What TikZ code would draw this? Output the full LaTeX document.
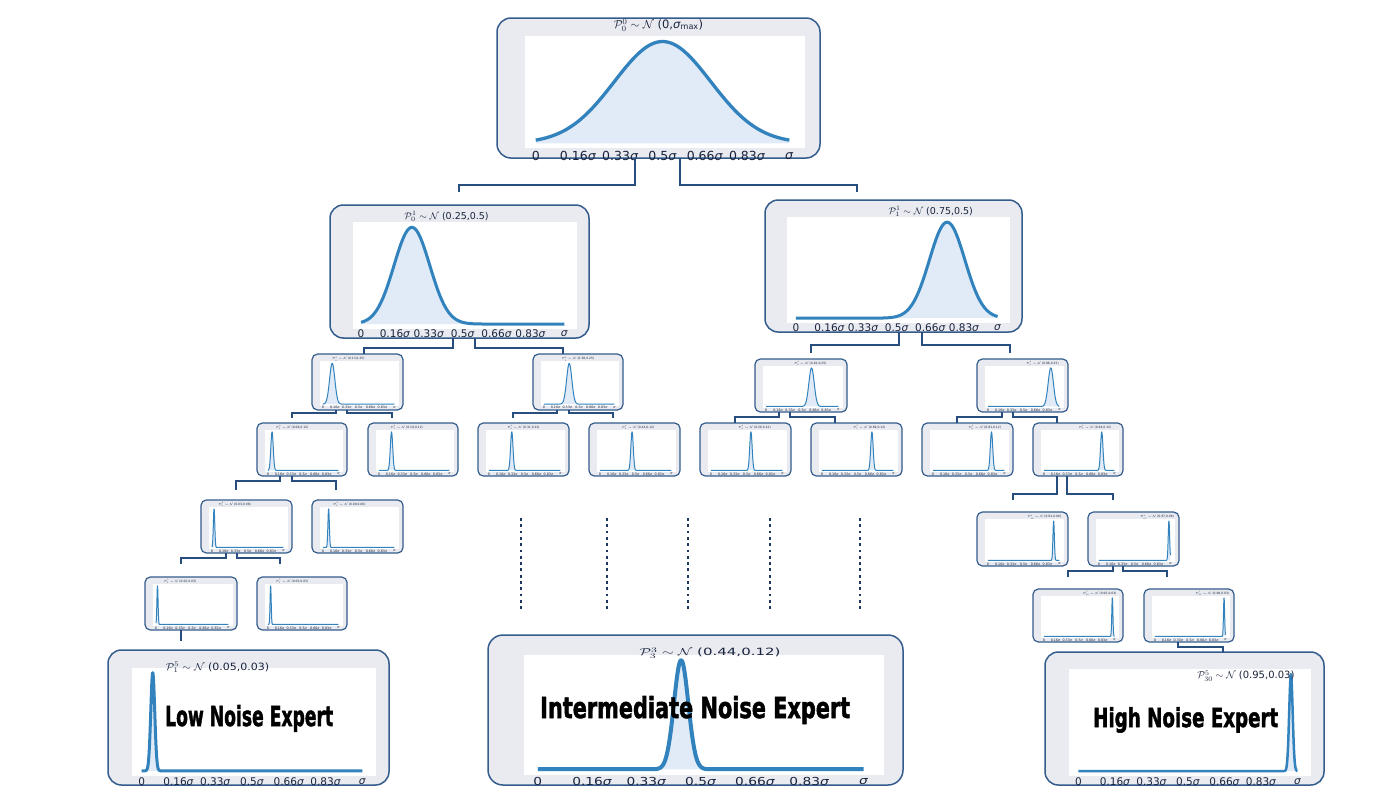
\RequirePackage{fix-cm}
\documentclass[tikz,border=0pt]{standalone}
\usepackage{fontspec}
\setmainfont{DejaVu Sans}
\newfontfamily\heavyfont{DejaVu Sans}[UprightFeatures={FakeBold=2}, BoldFeatures={FakeBold=2}]
\usepackage{graphicx}
\usetikzlibrary{calc}
\definecolor{boxgray}{RGB}{233,235,241}
\definecolor{bordercol}{RGB}{52,92,140}
\definecolor{curvecol}{RGB}{49,130,189}
\definecolor{curvefill}{RGB}{224,235,247}
\definecolor{conncol}{RGB}{40,78,128}
\definecolor{dotcol}{RGB}{30,55,95}
\definecolor{txtcol}{RGB}{25,35,60}
\newcommand{\sig}{\textit{σ}}
\def\mybw{1.5}\def\myclw{3}\def\mytfs{11}\def\mylfs{10}\def\mylyf{0.05}\def\mytyf{0.98}\def\mytxs{1}\def\mylxs{1}
\tikzset{
  pboxst/.style={draw=bordercol, fill=boxgray, line width=\mybw pt, inner sep=0pt, outer sep=0pt, rectangle},
  cline/.style={draw=curvecol, line width=\myclw pt, line join=round},
  labst/.style={inner sep=0pt, text=txtcol, font=\fontsize{\mylfs}{\mylfs}\selectfont},
  tickst/.style={inner sep=0pt, text=txtcol, font=\fontsize{\mytfs}{\mytfs}\selectfont},
  conn/.style={draw=conncol, line width=1.3pt},
  dotst/.style={draw=dotcol, line width=2.8pt, dash pattern=on 2.8pt off 3.5pt},
  bigtxt/.style={inner sep=0pt, text=black, font=\heavyfont\bfseries}
}
\newcommand{\pbox}[9]{%
  \pgfmathsetmacro\pbW{#4-#2}%
  \pgfmathsetmacro\pbH{#5-#3}%
  \pgfmathsetmacro\pbR{0.1*\pbH}%
  \node[pboxst, minimum width=\pbW pt, minimum height=\pbH pt, rounded corners=\pbR pt] (#1) at ({(#2+#4)/2},{(#3+#5)/2}) {};%
  \fill[white] ({#2+0.087*\pbW},{#3+0.13*\pbH}) rectangle ({#2+0.953*\pbW},{#3+0.93*\pbH});%
  \pgfmathsetmacro\pax{#2+0.12*\pbW}%
  \pgfmathsetmacro\paw{0.785*\pbW}%
  \pgfmathsetmacro\pae{\pax+\paw}%
  \pgfmathsetmacro\pby{#3+0.895*\pbH}%
  \pgfmathsetmacro\ppa{0.727*\pbH}%
  \pgfmathsetmacro\pta{max(0,#6-4.2*#7)}%
  \pgfmathsetmacro\ptb{min(1,#6+4.2*#7)}%
  \pgfmathsetmacro\pya{\pby-\ppa*exp(-0.5*min(abs(#6/#7),4.2)^2)}%
  \pgfmathsetmacro\pyb{\pby-\ppa*exp(-0.5*min(abs((1-#6)/#7),4.2)^2)}%
  \fill[curvefill] (\pax,\pby) -- (\pax,\pya) -- plot[variable=\t,domain=\pta:\ptb,samples=80] ({\pax+\t*\paw},{\pby-\ppa*exp(-0.5*min(abs((\t-#6)/#7),4.2)^2)}) -- (\pae,\pyb) -- (\pae,\pby) -- cycle;%
  \draw[cline] (\pax,\pya) -- plot[variable=\t,domain=\pta:\ptb,samples=80] ({\pax+\t*\paw},{\pby-\ppa*exp(-0.5*min(abs((\t-#6)/#7),4.2)^2)}) -- (\pae,\pyb);%
  \node[labst] at ({#2+#9*\pbW},{#3+\mylyf*\pbH}) {\scalebox{\mylxs}[1]{#8}};%
  \foreach \i/\tx in {0/0,1/0.16\sig,2/0.33\sig,3/0.5\sig,4/0.66\sig,5/0.83\sig,6/\sig}{%
    \node[tickst] at ({\pax+\i*\paw/6},{#3+\mytyf*\pbH}) {\scalebox{\mytxs}[1]{\tx}};}%
}
\newcommand{\conn}[6]{%
  \draw[conn] (#1.south -| #2,0) -- (#2,#3) -| ($(#4.north -| #5,0)+(0,#6)$);}
\begin{document}
\begin{tikzpicture}[x=1pt,y=-1pt]
\fill[white] (0,0) rectangle (1400,788);
\useasboundingbox (0,0) rectangle (1400,788);

% top
\def\mybw{1.5}\def\myclw{3.3}\def\mytfs{12.5}\def\mylfs{11.5}\def\mylyf{0.05}\def\mytyf{0.985}\def\mytxs{1}\def\mylxs{1}
\pbox{T}{497}{18}{820}{158}{0.5}{0.19}{$\mathcal{P}^0_0\sim\mathcal{N}$ (0,\sig\textsubscript{max})}{0.5}

% level 1
\def\myclw{3}\def\mytfs{10.5}\def\mylfs{9.5}\def\mylyf{0.083}\def\mytyf{0.97}
\pbox{L1a}{330}{205}{589}{338}{0.25}{0.088}{$\mathcal{P}^1_0\sim\mathcal{N}$ (0.25,0.5)}{0.45}
\pbox{L1b}{765}{200}{1022}{332}{0.75}{0.088}{$\mathcal{P}^1_1\sim\mathcal{N}$ (0.75,0.5)}{0.645}

% small boxes
\def\mybw{1.2}\def\myclw{1.0}\def\mytfs{3.3}\def\mylfs{3}\def\mylyf{0.09}\def\mytyf{0.96}
\pbox{L2a}{312}{354}{403}{410}{0.13}{0.037}{$\mathcal{P}^2_0\sim\mathcal{N}$ (0.13,0.25)}{0.4}
\pbox{L2b}{533}{354}{623}{410}{0.36}{0.037}{$\mathcal{P}^2_1\sim\mathcal{N}$ (0.38,0.25)}{0.5}
\pbox{L2c}{755}{359}{847}{412}{0.63}{0.037}{$\mathcal{P}^2_2\sim\mathcal{N}$ (0.62,0.25)}{0.6}
\pbox{L2d}{977}{359}{1068}{412}{0.88}{0.037}{$\mathcal{P}^2_3\sim\mathcal{N}$ (0.88,0.25)}{0.72}

\pbox{L3a}{257}{423}{347}{476}{0.06}{0.017}{$\mathcal{P}^3_0\sim\mathcal{N}$ (0.06,0.12)}{0.39}
\pbox{L3b}{368}{423}{458}{476}{0.18}{0.017}{$\mathcal{P}^3_1\sim\mathcal{N}$ (0.19,0.12)}{0.43}
\pbox{L3c}{478}{423}{569}{476}{0.32}{0.017}{$\mathcal{P}^3_2\sim\mathcal{N}$ (0.31,0.12)}{0.5}
\pbox{L3d}{589}{423}{680}{476}{0.45}{0.017}{$\mathcal{P}^3_3\sim\mathcal{N}$ (0.44,0.12)}{0.54}
\pbox{L3e}{700}{423}{791}{476}{0.56}{0.017}{$\mathcal{P}^3_4\sim\mathcal{N}$ (0.56,0.12)}{0.6}
\pbox{L3f}{811}{423}{902}{476}{0.70}{0.017}{$\mathcal{P}^3_5\sim\mathcal{N}$ (0.69,0.12)}{0.64}
\pbox{L3g}{922}{423}{1013}{476}{0.82}{0.017}{$\mathcal{P}^3_6\sim\mathcal{N}$ (0.81,0.12)}{0.69}
\pbox{L3h}{1033}{423}{1123}{476}{0.82}{0.017}{$\mathcal{P}^3_7\sim\mathcal{N}$ (0.94,0.12)}{0.69}

\pbox{L4a}{201}{500}{292}{553}{0.03}{0.01}{$\mathcal{P}^4_0\sim\mathcal{N}$ (0.03,0.06)}{0.37}
\pbox{L4b}{312}{500}{403}{553}{0.08}{0.01}{$\mathcal{P}^4_1\sim\mathcal{N}$ (0.09,0.06)}{0.41}
\pbox{L4c}{977}{512}{1068}{566}{0.92}{0.01}{$\mathcal{P}^4_{14}\sim\mathcal{N}$ (0.91,0.06)}{0.74}
\pbox{L4d}{1088}{512}{1179}{566}{0.98}{0.01}{$\mathcal{P}^4_{15}\sim\mathcal{N}$ (0.97,0.06)}{0.76}

\pbox{L5a}{145}{577}{237}{630}{0.02}{0.008}{$\mathcal{P}^5_0\sim\mathcal{N}$ (0.02,0.03)}{0.38}
\pbox{L5b}{257}{577}{347}{630}{0.04}{0.008}{$\mathcal{P}^5_1\sim\mathcal{N}$ (0.05,0.03)}{0.39}
\pbox{L5c}{1033}{589}{1123}{642}{0.97}{0.008}{$\mathcal{P}^5_{30}\sim\mathcal{N}$ (0.95,0.03)}{0.74}
\pbox{L5d}{1144}{589}{1234}{642}{0.98}{0.008}{$\mathcal{P}^5_{31}\sim\mathcal{N}$ (0.98,0.03)}{0.76}

% bottom boxes
\def\mybw{1.5}\def\myclw{3}\def\mytfs{10.5}\def\mylfs{10}\def\mylyf{0.13}\def\mytyf{0.975}\def\mytxs{1}\def\mylxs{1.1}
\pbox{BL}{108}{650}{389}{785}{0.05}{0.009}{$\mathcal{P}^5_1\sim\mathcal{N}$ (0.05,0.03)}{0.39}
\def\myclw{4}\def\mytfs{11}\def\mylfs{10}\def\mylyf{0.12}\def\mytxs{1.25}\def\mylxs{1.5}
\pbox{BM}{488}{635}{903}{785}{0.44}{0.022}{$\mathcal{P}^3_3\sim\mathcal{N}$ (0.44,0.12)}{0.535}
\def\myclw{2.5}\def\mytfs{10.5}\def\mylfs{10}\def\mylyf{0.18}\def\mytxs{1}\def\mylxs{1}
\pbox{BR}{1045}{652}{1324}{785}{0.97}{0.008}{$\mathcal{P}^5_{30}\sim\mathcal{N}$ (0.95,0.03)}{0.72}

% connectors
\conn{T}{635}{185}{L1a}{459}{-13}
\conn{T}{680}{185}{L1b}{857}{-8}
\conn{L1a}{453}{348}{L2a}{364}{0}
\conn{L1a}{475}{348}{L2b}{563}{0}
\conn{L1b}{899}{345}{L2c}{811}{-6}
\conn{L1b}{922}{345}{L2d}{1010}{-6}
\conn{L2a}{336}{413}{L3a}{292}{-5}
\conn{L2a}{347}{413}{L3b}{392}{-5}
\conn{L2b}{557}{413}{L3c}{513}{-5}
\conn{L2b}{569}{413}{L3d}{613}{-5}
\conn{L2c}{779}{417}{L3e}{735}{0}
\conn{L2c}{790}{417}{L3f}{835}{0}
\conn{L2d}{1002}{417}{L3g}{957}{0}
\conn{L2d}{1013}{417}{L3h}{1057}{0}
\conn{L3a}{280}{481}{L4a}{236}{-10}
\conn{L3a}{292}{481}{L4b}{336}{-10}
\conn{L4a}{226}{558}{L5a}{181}{-13}
\conn{L4a}{237}{558}{L5b}{280}{-13}
\conn{L3h}{1057}{494}{L4c}{1013}{-12}
\conn{L3h}{1067}{494}{L4d}{1113}{-12}
\conn{L4d}{1113}{571}{L5c}{1068}{-12}
\conn{L4d}{1123}{571}{L5d}{1167}{-12}
\conn{L5d}{1178}{647}{BR}{1223}{0}
\draw[conn] (L5a.south -| 181,0) -- ($(BL.north -| 181,0)+(0,-9)$);

% dotted continuation lines
\foreach \dx in {521,607,688,770,860}{\draw[dotst] (\dx,518) -- (\dx,610);}

% expert titles
\node[bigtxt, anchor=base west] (lowtxt) at (165,726) {\resizebox{168pt}{21pt}{Low Noise Expert}};
\node[bigtxt, anchor=base west] (midtxt) at (540,718) {\resizebox{310pt}{22pt}{Intermediate Noise Expert}};
\node[bigtxt, anchor=base west] (hightxt) at (1093,727) {\resizebox{185pt}{20pt}{High Noise Expert}};
\end{tikzpicture}
\end{document}
